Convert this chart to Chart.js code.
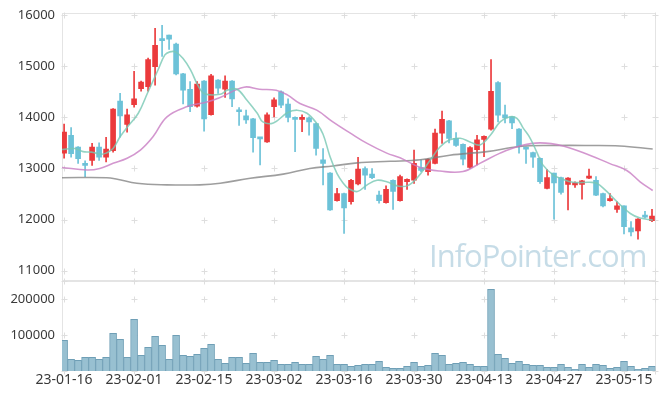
<!DOCTYPE html>
<html>
<head>
<meta charset="utf-8">
<script src="https://cdn.jsdelivr.net/npm/chart.js@4.4.0/dist/chart.umd.min.js"></script>
<style>
  html, body { margin: 0; padding: 0; background: #fff; }
  #wrap { position: relative; width: 665px; height: 399px; overflow: hidden; }
  #priceCanvas { position: absolute; left: 0; top: 0; }
  #volCanvas { position: absolute; left: 0; top: 270px; }
  #mark {
    position: absolute; left: 429px; top: 240px;
    font-family: 'Open Sans', sans-serif; font-size: 31px; line-height: 31px;
    letter-spacing: -1px; color: rgba(160, 196, 215, 0.6);
    white-space: nowrap; pointer-events: none;
  }
</style>
</head>
<body>
<div id="wrap">
  <canvas id="priceCanvas" width="665" height="282"></canvas>
  <canvas id="volCanvas" width="665" height="129"></canvas>
  <div id="mark">InfoPointer.com</div>
</div>
<script>
const dates = [
  '23-01-16','23-01-17','23-01-18','23-01-19','23-01-20','23-01-25','23-01-26','23-01-27','23-01-30','23-01-31',
  '23-02-01','23-02-02','23-02-03','23-02-06','23-02-07','23-02-08','23-02-09','23-02-10','23-02-13','23-02-14',
  '23-02-15','23-02-16','23-02-17','23-02-20','23-02-21','23-02-22','23-02-23','23-02-24','23-02-27','23-02-28',
  '23-03-02','23-03-03','23-03-06','23-03-07','23-03-08','23-03-09','23-03-10','23-03-13','23-03-14','23-03-15',
  '23-03-16','23-03-17','23-03-20','23-03-21','23-03-22','23-03-23','23-03-24','23-03-27','23-03-28','23-03-29',
  '23-03-30','23-03-31','23-04-03','23-04-04','23-04-05','23-04-06','23-04-07','23-04-10','23-04-11','23-04-12',
  '23-04-13','23-04-14','23-04-17','23-04-18','23-04-19','23-04-20','23-04-21','23-04-24','23-04-25','23-04-26',
  '23-04-27','23-04-28','23-05-02','23-05-03','23-05-04','23-05-08','23-05-09','23-05-10','23-05-11','23-05-12',
  '23-05-15','23-05-16','23-05-17','23-05-18','23-05-19'
];

const open = [
  13300,13650,13420,13080,13160,13420,13220,13350,14320,13860,
  14250,14560,14600,14990,15540,15610,15430,14850,14550,14220,
  14710,14050,14730,14550,14710,14140,14030,13970,13610,13520,
  14210,14500,14260,14000,13960,13990,13880,13170,12910,12370,
  12510,12350,12700,13000,12890,12480,12330,12770,12370,12740,
  12770,13020,12940,13100,13690,13930,13590,13470,13020,13370,
  13570,13770,14680,14050,14010,13770,13410,13310,13200,12610,
  12910,12820,12690,12680,12690,12810,12770,12510,12370,12200,
  12270,11840,11780,12080,11980
];
const high = [
  13870,13800,13430,13150,13490,13500,13610,14170,14470,14160,
  14900,14710,15160,15740,15800,15610,15450,14860,14700,14700,
  14720,14840,14740,14810,14720,14190,14140,13980,13610,14090,
  14380,14520,14360,14010,14050,14010,13890,13390,12920,12610,
  12520,12790,13220,13030,13000,12560,12660,12780,12870,12800,
  13360,13170,13190,13770,14120,13940,13700,13480,13430,13650,
  13640,15130,14700,14240,14020,13780,13420,13320,13210,12980,
  12910,12830,12820,12740,12770,12990,12840,12520,12510,12350,
  12270,11960,12020,12160,12200
];
const low = [
  13200,13220,13100,12840,13060,13160,13130,13320,13610,13710,
  14200,14510,14510,14630,15190,15330,14830,14260,14110,14200,
  13730,14040,14470,14390,14210,13840,13880,13320,13070,13510,
  14010,14190,13910,13330,13720,13650,13260,12680,12180,12360,
  11730,12300,12680,12590,12800,12320,12320,12200,12360,12590,
  12710,12940,12870,13090,13490,13500,13430,13070,13000,13070,
  13230,13750,13910,13890,13780,13300,13100,13020,12710,12600,
  12010,12500,12190,12630,12400,12800,12470,12250,12360,12140,
  11720,11680,11620,12030,11960
];
const close = [
  13710,13290,13190,13060,13420,13220,13380,14160,14030,14050,
  14360,14690,15130,15410,15500,15530,14850,14530,14210,14650,
  13970,14810,14570,14710,14360,14110,13950,13600,13580,14050,
  14340,14240,14000,13960,13990,13910,13390,13100,12190,12510,
  12230,12770,12990,12870,12820,12370,12590,12550,12840,12790,
  13100,12960,13180,13690,13960,13590,13450,13180,13410,13560,
  13630,14510,14040,13990,13890,13430,13380,13220,12740,12820,
  12720,12530,12810,12720,12760,12850,12480,12270,12410,12270,
  11860,11760,12010,12050,12070
];
const volume = [
  85300,32500,29700,38000,38000,32500,38000,104700,88000,38000,
  143600,43600,65800,96400,71400,32500,99200,43600,40800,46400,
  63000,74200,32500,21400,38000,38000,21400,49200,24200,24200,
  29700,18600,18600,24200,18600,18600,40800,32500,43600,18600,
  18600,13000,15800,18600,18600,26900,10300,7500,7500,13000,
  24200,13000,15800,49200,43600,18600,21400,24200,18600,13000,
  13000,227000,46400,35300,21400,26900,18600,15800,15800,10300,
  10300,18600,10300,4700,18600,10300,18600,15800,7500,10300,
  26900,13000,4700,7500,13000
];

// moving averages: [day index, value]
const ma5 = [
  [-0.3,13370],[1.5,13390],[2.7,13330],[3.9,13320],[5.3,13280],[6,13300],[7,13390],[8,13620],[9.1,13820],[10.6,14080],
  [12,14500],[13.4,14920],[14.4,15220],[15.1,15280],[15.9,15280],[17,15150],[18.1,14920],[19.1,14630],[20.1,14460],[22.3,14450],
  [23.3,14530],[24.7,14550],[26.1,14340],[27.6,14080],[28.4,13910],[29.9,13890],[31.9,14090],[33.3,14140],[34.7,14080],[36.1,13880],
  [37,13670],[38,13230],[39,12900],[39.9,12710],[40.6,12610],[41.9,12550],[43.3,12680],[44.7,12770],[46.1,12740],[47.6,12660],
  [49,12660],[50.4,12810],[52.3,13160],[53.7,13420],[55.1,13560],[56.6,13590],[58,13520],[59.4,13460],[60.9,13650],[62.3,13910],
  [63.7,14010],[64.7,13980],[65.6,13790],[66.6,13590],[67.6,13300],[68.4,13070],[69.9,12870],[70.9,12810],[72.7,12730],[75.1,12730],
  [76.1,12710],[77.3,12580],[79,12350],[80.9,12120],[82.3,12030],[84.1,11990]
];
const ma20 = [
  [-0.3,13020],[3.3,12970],[5.1,13000],[7,13100],[9,13200],[10.9,13360],[12.7,13620],[14.7,14010],[17.6,14210],[20.4,14300],
  [22.3,14390],[25.7,14590],[27.9,14550],[30.3,14530],[31.9,14440],[33.7,14270],[36.1,14140],[38.4,13910],[40.9,13690],[43.3,13490],
  [46.1,13300],[48,13210],[50.9,13020],[53.7,12950],[57,12940],[59.4,13100],[62.3,13300],[65.1,13440],[68,13500],[71.3,13440],
  [75.1,13260],[77.9,13100],[80.4,12960],[82.3,12740],[84.1,12570]
];
const ma60 = [
  [-0.3,12820],[6.1,12820],[7.6,12790],[10.4,12710],[14.7,12680],[19.4,12680],[22.3,12710],[26.6,12810],[31.3,12890],[35.1,13000],
  [38.4,13050],[41.9,13110],[46.6,13140],[50.9,13170],[55.1,13260],[60.4,13330],[65.1,13430],[69.9,13450],[75.1,13450],[79.4,13440],
  [84.1,13380]
];

const labelDays = [0, 10, 20, 30, 40, 50, 60, 70, 80];
const priceTicks = [11000, 12000, 13000, 14000, 15000, 16000];
const volTicks = [0, 100000, 200000, 250000];

const UP = '#eb3a3c';
const DOWN = '#6cc2d8';
const candleColors = close.map((c, i) => c >= open[i] ? UP : DOWN);
const toPoints = arr => arr.map(p => ({ x: p[0], y: p[1] }));

const FONT = "'Noto Sans', sans-serif";
const X_MIN = -0.3, X_MAX = 84.5;

// fixed axis width, and no extra room reserved for edge labels
function fixYAxis(s) {
  s.width = 62;
  s.paddingTop = 0;
  s.paddingBottom = 0;
}

// light frame plus little "+" marks where grid lines would cross
const gridMarks = {
  id: 'gridMarks',
  beforeDatasetsDraw(chart) {
    const { ctx, chartArea: a, scales } = chart;
    const x = scales.x, y = scales.y;
    ctx.save();
    ctx.strokeStyle = '#e4e4e4';
    ctx.lineWidth = 1;
    ctx.strokeRect(Math.round(a.left) + 0.5, Math.round(a.top) + 0.5,
      Math.round(a.right - a.left) - 1, Math.round(a.bottom - a.top) - 1);
    ctx.strokeStyle = '#dedede';
    const xs = labelDays.map(d => x.getPixelForValue(d)).concat([a.right - 1]);
    y.ticks.forEach(t => {
      const py = Math.round(y.getPixelForValue(t.value)) + 0.5;
      xs.forEach(px0 => {
        const px = Math.round(px0) + 0.5;
        ctx.beginPath();
        ctx.moveTo(px - 3, py); ctx.lineTo(px + 3, py);
        ctx.moveTo(px, py - 3); ctx.lineTo(px, py + 3);
        ctx.stroke();
      });
    });
    ctx.restore();
  }
};

Chart.defaults.font.family = FONT;
Chart.defaults.color = '#3a3a3a';

new Chart(document.getElementById('priceCanvas'), {
  type: 'bar',
  data: {
    datasets: [
      {
        type: 'line', order: 1,
        data: toPoints(ma5),
        borderColor: 'rgba(120, 200, 180, 0.8)', borderWidth: 1.6,
        pointRadius: 0, tension: 0.4, fill: false
      },
      {
        type: 'line', order: 1,
        data: toPoints(ma20),
        borderColor: 'rgba(200, 125, 195, 0.8)', borderWidth: 1.6,
        pointRadius: 0, tension: 0.4, fill: false
      },
      {
        type: 'line', order: 1,
        data: toPoints(ma60),
        borderColor: 'rgba(125, 125, 125, 0.75)', borderWidth: 1.6,
        pointRadius: 0, tension: 0.4, fill: false
      },
      {
        order: 2,
        data: open.map((o, i) => ({ x: i, y: [o, close[i]] })),
        backgroundColor: candleColors,
        barThickness: 5, minBarLength: 2, grouped: false
      },
      {
        order: 3,
        data: low.map((l, i) => ({ x: i, y: [l, high[i]] })),
        backgroundColor: candleColors,
        barThickness: 1, grouped: false
      }
    ]
  },
  options: {
    responsive: false,
    animation: false,
    layout: { padding: { top: 13, right: 9.5, bottom: 1, left: 0 } },
    plugins: { legend: { display: false }, tooltip: { enabled: false } },
    scales: {
      x: {
        type: 'linear', min: X_MIN, max: X_MAX, offset: false, display: false
      },
      y: {
        min: 10800, max: 16040,
        afterFit: fixYAxis,
        afterBuildTicks: s => { s.ticks = priceTicks.map(v => ({ value: v })); },
        grid: { display: false, drawTicks: false },
        border: { display: false },
        ticks: { padding: 7, font: { size: 13 }, color: '#3a3a3a', callback: v => String(v) }
      }
    }
  },
  plugins: [gridMarks]
});

new Chart(document.getElementById('volCanvas'), {
  type: 'bar',
  data: {
    datasets: [{
      data: volume.map((v, i) => ({ x: i, y: v })),
      backgroundColor: '#98c0d1',
      borderColor: '#6f9fb6',
      borderWidth: 1,
      barThickness: 7
    }]
  },
  options: {
    responsive: false,
    animation: false,
    layout: { padding: { top: 11, right: 9.5, bottom: 0, left: 0 } },
    plugins: { legend: { display: false }, tooltip: { enabled: false } },
    scales: {
      x: {
        type: 'linear', min: X_MIN, max: X_MAX, offset: false,
        afterFit: s => { s.height = 28; s.paddingLeft = 0; s.paddingRight = 0; },
        afterBuildTicks: s => { s.ticks = labelDays.map(v => ({ value: v })); },
        grid: { display: false, drawTicks: false },
        border: { display: false },
        ticks: {
          padding: 1, maxRotation: 0, autoSkip: false,
          font: { size: 14 }, color: '#3a3a3a',
          callback: v => dates[v]
        }
      },
      y: {
        min: 0, max: 250000,
        afterFit: fixYAxis,
        afterBuildTicks: s => { s.ticks = volTicks.map(v => ({ value: v })); },
        grid: { display: false, drawTicks: false },
        border: { display: false },
        ticks: {
          padding: 7, font: { size: 13 }, color: '#3a3a3a',
          callback: v => (v === 100000 || v === 200000) ? String(v) : ''
        }
      }
    }
  },
  plugins: [gridMarks]
});
</script>
</body>
</html>
